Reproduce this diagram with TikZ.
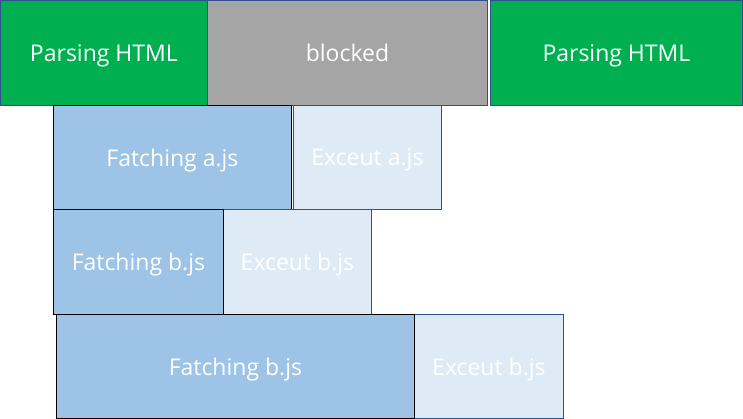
\documentclass[tikz,border=0pt]{standalone}
\usepackage{fontspec}
\setmainfont{Open Sans}
\definecolor{parsegreen}{HTML}{00B050}
\definecolor{blockgray}{HTML}{A5A5A5}
\definecolor{fetchblue}{HTML}{9DC3E6}
\definecolor{execblue}{HTML}{DEEBF7}
\definecolor{edgeblue}{HTML}{2F528F}
\tikzset{
  bar/.style={draw=edgeblue, line width=0.9pt, text=white, anchor=north west,
    inner sep=0pt, text depth=0pt, font=\fontsize{23}{27}\selectfont},
  parse/.style={bar, fill=parsegreen},
  blocked/.style={bar, fill=blockgray},
  fetch/.style={bar, draw=black, fill=fetchblue},
  exec/.style={bar, fill=execblue}
}

\begin{document}
\begin{tikzpicture}[x=1pt, y=-1pt]
    \useasboundingbox (0,0) rectangle (743,419);
    % -----------------------------------------------------
    % 1) HTML parsing, stopped while the script runs
    % -----------------------------------------------------
    \node[parse, minimum width=207pt, minimum height=105pt] (parse1) at (0,0) {Parsing HTML};
    \node[blocked, minimum width=280pt, minimum height=105pt] (block) at (207,0) {blocked};
    \node[parse, minimum width=252pt, minimum height=105pt] (parse2) at (490,0) {Parsing HTML};

    % -----------------------------------------------------
    % 2) a.js
    % -----------------------------------------------------
    \node[exec, minimum width=148pt, minimum height=104pt] (execa) at (293,105) {Exceut a.js};
    \node[fetch, minimum width=238pt, minimum height=104pt] (fetcha) at (53,105) {Fatching a.js};

    % -----------------------------------------------------
    % 3) b.js
    % -----------------------------------------------------
    \node[exec, minimum width=148pt, minimum height=105pt] (execb) at (223,209) {Exceut b.js};
    \node[fetch, minimum width=170pt, minimum height=105pt] (fetchb) at (53,209) {Fatching b.js};

    % -----------------------------------------------------
    % 4) b.js, longer fetch
    % -----------------------------------------------------
    \node[exec, minimum width=149pt, minimum height=104pt] (execc) at (414,314) {Exceut b.js};
    \node[fetch, minimum width=358pt, minimum height=104pt] (fetchc) at (56,314) {Fatching b.js};
\end{tikzpicture}
\end{document}
